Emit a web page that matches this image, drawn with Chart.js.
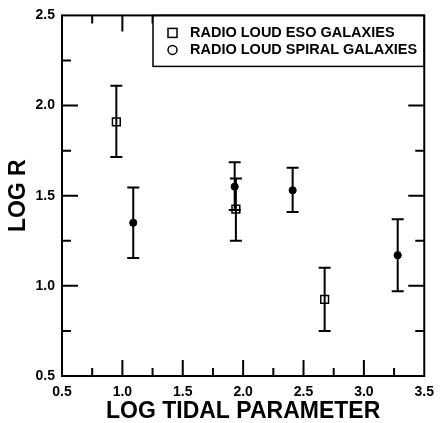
<!DOCTYPE html>
<html>
<head>
<meta charset="utf-8">
<script src="https://cdn.jsdelivr.net/npm/chart.js@4.4.1/dist/chart.umd.min.js"></script>
<style>
html,body{margin:0;padding:0;background:#fff;}
canvas{display:block;}
</style>
</head>
<body>
<canvas id="c" width="442" height="423"></canvas>
<script>
// ---- data ----
const esoLabel = 'RADIO LOUD ESO GALAXIES';
const esoX    = [0.95, 1.94, 2.675];
const esoY    = [1.91, 1.425, 0.925];
const esoHigh = [2.11, 1.595, 1.10];
const esoLow  = [1.715, 1.25, 0.75];

const spiralLabel = 'RADIO LOUD SPIRAL GALAXIES';
const spiralX    = [1.09, 1.93, 2.41, 3.28];
const spiralY    = [1.35, 1.55, 1.53, 1.17];
const spiralHigh = [1.545, 1.685, 1.655, 1.37];
const spiralLow  = [1.155, 1.42, 1.41, 0.97];

const xTickLabels = [0.5, 1.0, 1.5, 2.0, 2.5, 3.0, 3.5];
const yTickLabels = [0.5, 1.0, 1.5, 2.0, 2.5];
const xMinorTicks = [0.75, 1.25, 1.75, 2.25, 2.75, 3.25];
const yMinorTicks = [0.75, 1.25, 1.75, 2.25];

const xTitle = 'LOG TIDAL PARAMETER';
const yTitle = 'LOG R';

const FONT = "'Liberation Sans', Arial, Helvetica, sans-serif";

function pts(xs, ys, hi, lo) {
  return xs.map((x, i) => ({x: x, y: ys[i], yMax: hi[i], yMin: lo[i]}));
}

const errorBars = {
  id: 'errorBars',
  beforeDatasetsDraw(chart) {
    const ctx = chart.ctx, xs = chart.scales.x, ys = chart.scales.y;
    ctx.save();
    ctx.strokeStyle = '#000';
    ctx.lineWidth = 2;
    chart.data.datasets.forEach(ds => {
      ds.data.forEach(p => {
        const px = xs.getPixelForValue(p.x);
        const t = ys.getPixelForValue(p.yMax);
        const b = ys.getPixelForValue(p.yMin);
        ctx.beginPath();
        ctx.moveTo(px, t); ctx.lineTo(px, b);
        ctx.moveTo(px - 6, t); ctx.lineTo(px + 6, t);
        ctx.moveTo(px - 6, b); ctx.lineTo(px + 6, b);
        ctx.stroke();
      });
    });
    ctx.restore();
  }
};

const frame = {
  id: 'frame',
  afterDatasetsDraw(chart) {
    const ctx = chart.ctx, a = chart.chartArea;
    const xs = chart.scales.x, ys = chart.scales.y;
    ctx.save();
    ctx.strokeStyle = '#000';
    ctx.lineWidth = 2;
    ctx.beginPath();
    const tick = (vals, len) => {
      vals.forEach(v => {
        const px = xs.getPixelForValue(v);
        if (px > a.left + 1 && px < a.right - 1) {
          ctx.moveTo(px, a.bottom); ctx.lineTo(px, a.bottom - len);
          ctx.moveTo(px, a.top); ctx.lineTo(px, a.top + len);
        }
      });
    };
    const ytick = (vals, len) => {
      vals.forEach(v => {
        const py = ys.getPixelForValue(v);
        if (py > a.top + 1 && py < a.bottom - 1) {
          ctx.moveTo(a.left, py); ctx.lineTo(a.left + len, py);
          ctx.moveTo(a.right, py); ctx.lineTo(a.right - len, py);
        }
      });
    };
    tick(xTickLabels, 16); tick(xMinorTicks, 8);
    ytick(yTickLabels, 16); ytick(yMinorTicks, 9);
    ctx.stroke();

    // legend box
    const bx = 153, by = a.top, bw = a.right - bx, bh = 51;
    ctx.fillStyle = '#fff';
    ctx.fillRect(bx, by, bw, bh);
    ctx.lineWidth = 1.5;
    ctx.strokeRect(bx, by, bw, bh);

    ctx.lineWidth = 2;
    ctx.strokeRect(a.left, a.top, a.right - a.left, a.bottom - a.top);

    // legend entries
    ctx.lineWidth = 1.5;
    const l1 = by + 17.5, l2 = by + 34.5, sx = 172.5;
    ctx.strokeRect(sx - 4.5, l1 - 4.5, 9, 9);
    ctx.beginPath();
    ctx.arc(sx, l2, 4.5, 0, Math.PI * 2);
    ctx.stroke();
    ctx.fillStyle = '#000';
    ctx.font = 'bold 14.5px ' + FONT;
    ctx.textBaseline = 'middle';
    ctx.textAlign = 'left';
    ctx.fillText(chart.data.datasets[0].label, 190, l1);
    ctx.fillText(chart.data.datasets[1].label, 190, l2);
    ctx.restore();
  }
};

new Chart(document.getElementById('c'), {
  type: 'scatter',
  data: {
    datasets: [
      {
        label: esoLabel,
        data: pts(esoX, esoY, esoHigh, esoLow),
        pointStyle: 'rect',
        pointRadius: 5.5,
        borderColor: '#000',
        borderWidth: 1.5,
        backgroundColor: 'rgba(0,0,0,0)'
      },
      {
        label: spiralLabel,
        data: pts(spiralX, spiralY, spiralHigh, spiralLow),
        pointStyle: 'circle',
        pointRadius: 3.6,
        borderColor: '#000',
        borderWidth: 1,
        backgroundColor: '#000'
      }
    ]
  },
  options: {
    responsive: false,
    animation: false,
    devicePixelRatio: 1,
    layout: {padding: {left: 0, right: 14, top: 12, bottom: 0}},
    plugins: {legend: {display: false}, tooltip: {enabled: false}},
    scales: {
      x: {
        type: 'linear', min: 0.5, max: 3.5,
        afterBuildTicks: s => { s.ticks = xTickLabels.map(v => ({value: v})); },
        afterFit: s => { s.height = 47; },
        ticks: {
          callback: v => Number(v).toFixed(1),
          font: {family: FONT, size: 14, weight: 'bold'},
          color: '#000', padding: 8, maxRotation: 0, autoSkip: false
        },
        grid: {display: false, drawTicks: false},
        border: {display: false},
        title: {
          display: true, text: xTitle, color: '#000',
          font: {family: FONT, size: 23, weight: 'bold', lineHeight: 1.0},
          padding: 0
        }
      },
      y: {
        type: 'linear', min: 0.5, max: 2.5,
        afterBuildTicks: s => { s.ticks = yTickLabels.map(v => ({value: v})); },
        afterFit: s => { s.width = 62; },
        ticks: {
          callback: v => Number(v).toFixed(1),
          font: {family: FONT, size: 14, weight: 'bold'},
          color: '#000', padding: 7, autoSkip: false
        },
        grid: {display: false, drawTicks: false},
        border: {display: false},
        title: {
          display: true, text: yTitle, color: '#000',
          font: {family: FONT, size: 23, weight: 'bold', lineHeight: 1.2},
          padding: {top: 5, bottom: 0}
        }
      }
    }
  },
  plugins: [errorBars, frame]
});
</script>
</body>
</html>
